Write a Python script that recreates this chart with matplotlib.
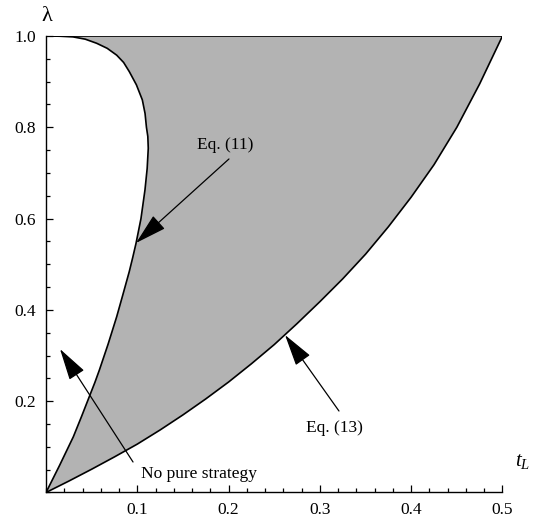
import matplotlib
matplotlib.use("Agg")
import matplotlib.pyplot as plt
from matplotlib.ticker import MultipleLocator

plt.rcParams['font.family'] = ['Liberation Serif', 'DejaVu Serif']
plt.rcParams['mathtext.fontset'] = 'custom'
plt.rcParams['mathtext.it'] = 'Liberation Serif:italic'
plt.rcParams['mathtext.rm'] = 'Liberation Serif'

# Eq. (11) boundary (t_L, lambda), bottom to top
eq11_t = [0.0, 0.015, 0.0299, 0.039, 0.0482, 0.0535, 0.0584, 0.068,
          0.0774, 0.084, 0.0912, 0.095, 0.0986, 0.104, 0.1084, 0.1108,
          0.1120, 0.1115, 0.1100, 0.1085, 0.1055, 0.099, 0.0912, 0.085,
          0.0774, 0.067, 0.0555, 0.043, 0.0296, 0.015, 0.0]
eq11_lam = [0.0, 0.060, 0.122, 0.167, 0.214, 0.241, 0.268, 0.325,
            0.385, 0.432, 0.484, 0.515, 0.546, 0.600, 0.663, 0.710,
            0.754, 0.780, 0.800, 0.830, 0.860, 0.893, 0.922, 0.942,
            0.958, 0.973, 0.984, 0.993, 0.998, 0.9995, 1.0]

# Eq. (13) boundary
eq13_t = [0.0, 0.025, 0.05, 0.075, 0.10, 0.125, 0.15, 0.175, 0.20, 0.225,
          0.25, 0.275, 0.30, 0.325, 0.35, 0.375, 0.40, 0.425, 0.45, 0.475, 0.50]
eq13_lam = [0.0, 0.025, 0.051, 0.078, 0.106, 0.137, 0.170, 0.205, 0.242, 0.282,
            0.324, 0.370, 0.418, 0.468, 0.522, 0.582, 0.647, 0.718, 0.800, 0.895, 1.0]

x_ticks = [0.1, 0.2, 0.3, 0.4, 0.5]
y_ticks = [0.2, 0.4, 0.6, 0.8, 1.0]

fig = plt.figure(figsize=(5.37, 5.20), dpi=100)
ax = fig.add_axes([0.0857, 0.0529, 0.85, 0.8779])

# shaded region: Eq. 11 up to lambda=1, across the top, back down Eq. 13
poly_t = eq11_t + [eq13_t[-1]] + eq13_t[::-1]
poly_l = eq11_lam + [1.0] + eq13_lam[::-1]
ax.fill(poly_t, poly_l, color='#b3b3b3', lw=0, zorder=1)

ax.plot(eq11_t, eq11_lam, color='black', lw=1.2, zorder=3,
        solid_joinstyle='round')
ax.plot(eq13_t, eq13_lam, color='black', lw=1.2, zorder=3,
        solid_joinstyle='round')
ax.plot([0.0, 0.5], [1.0, 1.0], color='black', lw=1.2, zorder=3)

ax.set_xlim(0, 0.5)
ax.set_ylim(0, 1.0)
ax.spines['top'].set_visible(False)
ax.spines['right'].set_visible(False)
ax.spines['left'].set_linewidth(1.0)
ax.spines['bottom'].set_linewidth(1.0)

ax.set_xticks(x_ticks)
ax.set_xticklabels([f'{v:.1f}' for v in x_ticks])
ax.set_yticks(y_ticks)
ax.set_yticklabels([f'{v:.1f}' for v in y_ticks])
ax.xaxis.set_minor_locator(MultipleLocator(0.02))
ax.yaxis.set_minor_locator(MultipleLocator(0.05))
ax.tick_params(which='both', direction='in', labelsize=12.5, width=0.9)
ax.tick_params(which='major', length=5, pad=7)
ax.tick_params(which='minor', length=3)

ax.text(0.001, 1.042, 'λ', fontsize=16, ha='center', va='center',
        clip_on=False)
ax.text(0.5225, 0.068, r'$t_L$', fontsize=15, ha='center', va='center',
        clip_on=False)

arrow = dict(arrowstyle='-|>,head_length=2.0,head_width=0.55',
             mutation_scale=10, color='black', lw=0.9, shrinkA=0, shrinkB=0)

ax.annotate('', xy=(0.0986, 0.5466), xytext=(0.2004, 0.7306), arrowprops=arrow)
ax.text(0.1966, 0.7612, 'Eq. (11)', fontsize=12.5, ha='center', va='center')

ax.annotate('', xy=(0.2618, 0.345), xytext=(0.3209, 0.1785), arrowprops=arrow)
ax.text(0.3154, 0.1413, 'Eq. (13)', fontsize=12.5, ha='center', va='center')

ax.annotate('', xy=(0.0153, 0.3143), xytext=(0.0953, 0.0668), arrowprops=arrow)
ax.text(0.1676, 0.0405, 'No pure strategy', fontsize=12.5, ha='center',
        va='center')

fig.savefig('out.png', dpi=100)
